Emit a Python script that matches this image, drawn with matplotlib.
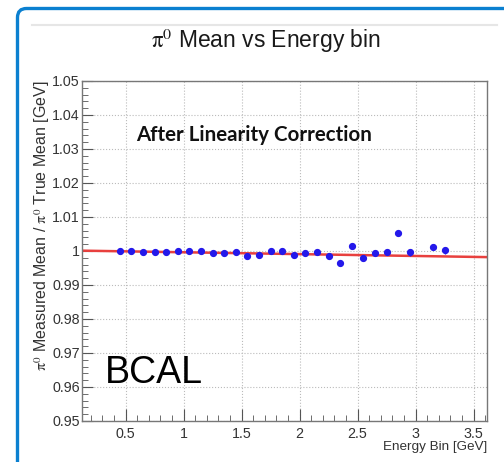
import numpy as np
import matplotlib
matplotlib.use("Agg")
import matplotlib.pyplot as plt
from matplotlib.patches import PathPatch
from matplotlib.path import Path
from matplotlib.lines import Line2D
from matplotlib.ticker import MultipleLocator

plt.rcParams['font.family'] = ['Liberation Sans', 'DejaVu Sans']
plt.rcParams['mathtext.fontset'] = 'stix'

# datos
energy = [0.45, 0.55, 0.65, 0.75, 0.85, 0.95, 1.05, 1.15, 1.25, 1.35,
          1.45, 1.55, 1.65, 1.75, 1.85, 1.95, 2.05, 2.15, 2.25, 2.35,
          2.45, 2.55, 2.65, 2.75, 2.85, 2.95, 3.15, 3.25]
ratio = [1.0001, 1.0001, 0.9997, 0.9996, 0.9997, 1.0001, 1.0000, 1.0001, 0.9994, 0.9993,
         0.9998, 0.9986, 0.9989, 1.0000, 1.0001, 0.9989, 0.9993, 0.9998, 0.9985, 0.9966,
         1.0015, 0.9979, 0.9995, 0.9998, 1.0053, 0.9996, 1.0013, 1.0002]
ratio_err = [0.0003, 0.0003, 0.0003, 0.0003, 0.0003, 0.0003, 0.0003, 0.0003, 0.0003, 0.0003,
             0.0003, 0.0003, 0.0003, 0.0003, 0.0003, 0.0003, 0.0003, 0.0003, 0.0003, 0.0004,
             0.0004, 0.0004, 0.0004, 0.0004, 0.0005, 0.0010, 0.0005, 0.0010]

# ajuste lineal p0 + p1*x
fit_p0 = 1.00017
fit_p1 = -0.000544

fig = plt.figure(figsize=(5.04, 4.62), dpi=100)
W, H = 504.0, 462.0

# marco azul de la diapositiva (solo borde izquierdo y superior)
x0, y0, r = 17.5, 8.5, 9.0
verts = [(x0, H + 10), (x0, y0 + r), (x0, y0), (x0 + r, y0), (W + 10, y0)]
codes = [Path.MOVETO, Path.LINETO, Path.CURVE3, Path.CURVE3, Path.LINETO]
verts = [(vx / W, 1 - vy / H) for vx, vy in verts]
frame = PathPatch(Path(verts, codes), transform=fig.transFigure,
                  facecolor='none', edgecolor='#0b80d0', linewidth=2.4)
fig.patches.append(frame)
fig.lines.append(Line2D([32 / W, 497 / W], [1 - 25 / H, 1 - 25 / H],
                        transform=fig.transFigure, color='#e6e6e6', lw=1.5))

ax = fig.add_axes([82 / W, 41 / H, 405 / W, 340 / H])

xs = np.linspace(0.125, 3.615, 50)
ax.plot(xs, fit_p0 + fit_p1 * xs, color='#e8403e', lw=1.8, zorder=2)
ax.errorbar(energy, ratio, yerr=ratio_err, fmt='o', color='#2418ea',
            ms=4.2, elinewidth=1, capsize=0, zorder=3)

ax.set_xlim(0.125, 3.615)
ax.set_ylim(0.95, 1.05)
ax.xaxis.set_minor_locator(MultipleLocator(0.1))
ax.yaxis.set_minor_locator(MultipleLocator(0.002))
ax.set_xticks([0.5, 1, 1.5, 2, 2.5, 3, 3.5])
ax.set_xticklabels(['0.5', '1', '1.5', '2', '2.5', '3', '3.5'])
yt = np.round(np.arange(0.95, 1.0501, 0.01), 2)
ax.set_yticks(yt)
ax.set_yticklabels(['1' if v == 1 else ('%g' % v) for v in yt])

ax.tick_params(which='both', direction='in', colors='#555555',
               labelcolor='#333333', labelsize=10.3)
ax.tick_params(axis='x', which='major', length=9, pad=4)
ax.tick_params(axis='x', which='minor', length=4.5)
ax.tick_params(axis='y', which='major', length=8, pad=1.5)
ax.tick_params(axis='y', which='minor', length=4)
for s in ax.spines.values():
    s.set_color('#777777')
    s.set_linewidth(1.0)
ax.grid(True, which='major', color='#bbbbbb', linestyle=':', linewidth=0.8)

fig.text(266 / W, 1 - 41 / H, r'$\mathrm{\pi}^{0}$ Mean vs Energy bin',
         ha='center', va='center', fontsize=16.5, color='#1a1a1a')
fig.text(487 / W, 1 - 447 / H, 'Energy Bin [GeV]', ha='right', va='center',
         fontsize=9.7, color='#333333')
fig.text(42 / W, 1 - 80 / H,
         r'$\mathrm{\pi}^{0}$ Measured Mean / $\mathrm{\pi}^{0}$ True Mean [GeV]',
         rotation=90, ha='center', va='top', fontsize=11.5, color='#333333')

ax.text(0.134, 0.841, 'After Linearity Correction', transform=ax.transAxes,
        family=['Lato', 'DejaVu Sans'], fontweight='bold', fontsize=14.8,
        color='#111111', va='center', ha='left')
ax.text(0.057, 0.141, 'BCAL', transform=ax.transAxes, fontsize=27,
        color='black', va='center', ha='left')

fig.savefig('out.png', dpi=100)
